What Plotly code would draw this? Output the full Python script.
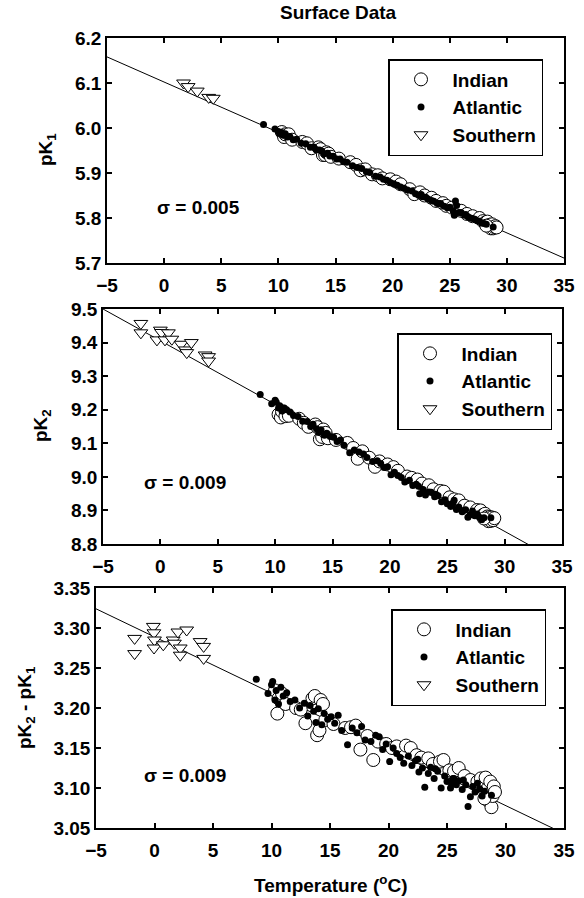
import plotly.graph_objects as go

# ---------------- data ----------------
x_ticks = [-5, 0, 5, 10, 15, 20, 25, 30, 35]

ind_t = [10.3, 10.5, 10.6, 10.9, 11.2, 12.1, 12.5, 12.9, 13.5, 13.7, 13.9, 14.1, 14.2, 14.4, 14.6, 15.3,
         16.3, 16.8, 17.2, 17.6, 18.2, 18.7, 19.1, 19.8, 20.3, 20.7, 21.5, 21.9, 22.4, 22.8, 23.4, 23.8,
         24.4, 24.7, 25.2, 25.6, 26.0, 26.5, 27.0, 27.6, 27.9, 28.1, 28.3, 28.4, 28.5, 28.6, 28.7, 28.8,
         28.9, 29.0, 29.1, 28.2]
ind_pk1 = [5.991, 5.980, 5.986, 5.986, 5.974, 5.969, 5.966, 5.955, 5.957, 5.953, 5.940, 5.940, 5.946, 5.943,
           5.936, 5.932, 5.924, 5.918, 5.906, 5.908, 5.897, 5.895, 5.888, 5.886, 5.881, 5.875, 5.864, 5.853,
           5.857, 5.850, 5.845, 5.838, 5.833, 5.827, 5.823, 5.818, 5.816, 5.809, 5.804, 5.800, 5.793, 5.790,
           5.792, 5.783, 5.785, 5.777, 5.786, 5.777, 5.780, 5.782, 5.779, 5.783]
ind_pk2 = [9.186, 9.177, 9.195, 9.181, 9.182, 9.173, 9.161, 9.149, 9.156, 9.148, 9.112, 9.119, 9.141, 9.131,
           9.115, 9.110, 9.101, 9.086, 9.054, 9.076, 9.057, 9.030, 9.046, 9.037, 9.029, 9.018, 9.001, 8.997,
           8.992, 8.980, 8.975, 8.963, 8.958, 8.956, 8.939, 8.933, 8.930, 8.914, 8.909, 8.901, 8.900, 8.886,
           8.890, 8.878, 8.882, 8.868, 8.880, 8.869, 8.879, 8.871, 8.877, 8.876]
ind_dpk = [3.222, 3.193, 3.212, 3.218, 3.205, 3.200, 3.198, 3.181, 3.212, 3.215, 3.166, 3.172, 3.210, 3.205,
           3.185, 3.180, 3.175, 3.176, 3.178, 3.148, 3.165, 3.135, 3.158, 3.155, 3.150, 3.152, 3.153, 3.150,
           3.141, 3.138, 3.137, 3.130, 3.133, 3.135, 3.122, 3.121, 3.125, 3.115, 3.110, 3.108, 3.112, 3.104,
           3.113, 3.098, 3.092, 3.083, 3.108, 3.076, 3.090, 3.102, 3.095, 3.087]

atl_t = [8.7, 9.7, 10.0, 10.1, 10.3, 10.4, 10.6, 10.8, 11.0, 11.3, 11.6, 12.0, 12.4, 12.8, 13.1, 13.3,
         13.6, 13.8, 14.0, 14.3, 14.5, 14.8, 15.1, 15.4, 15.7, 16.0, 16.5, 16.9, 17.3, 17.7, 18.0, 18.5,
         18.9, 19.2, 19.5, 19.8, 20.1, 20.4, 20.7, 21.0, 21.3, 21.7, 22.0, 22.3, 22.6, 22.9, 23.1, 23.4,
         23.6, 23.9, 24.2, 24.5, 24.8, 25.0, 25.3, 25.5, 25.8, 26.0, 26.3, 26.6, 26.8, 27.0, 27.2, 27.4,
         27.6, 27.8, 28.0, 28.2, 28.8, 24.0, 22.5, 26.4, 25.4, 25.6]
atl_pk1 = [6.008, 5.998, 5.992, 5.988, 5.990, 5.984, 5.987, 5.980, 5.981, 5.974, 5.975, 5.966, 5.965, 5.957,
           5.958, 5.952, 5.951, 5.949, 5.943, 5.944, 5.938, 5.937, 5.931, 5.931, 5.925, 5.924, 5.916, 5.912,
           5.910, 5.903, 5.901, 5.893, 5.891, 5.886, 5.884, 5.879, 5.876, 5.873, 5.869, 5.866, 5.862, 5.860,
           5.854, 5.851, 5.847, 5.846, 5.842, 5.839, 5.837, 5.833, 5.832, 5.826, 5.823, 5.824, 5.816, 5.838,
           5.812, 5.812, 5.806, 5.803, 5.800, 5.799, 5.797, 5.794, 5.793, 5.789, 5.788, 5.786, 5.780, 5.832,
           5.852, 5.808, 5.806, 5.828]
atl_pk2 = [9.245, 9.218, 9.228, 9.222, 9.205, 9.212, 9.196, 9.205, 9.200, 9.193, 9.183, 9.180, 9.166, 9.165,
           9.150, 9.157, 9.143, 9.132, 9.140, 9.124, 9.130, 9.120, 9.118, 9.105, 9.110, 9.094, 9.072, 9.080,
           9.074, 9.068, 9.058, 9.046, 9.048, 9.040, 9.028, 9.030, 9.006, 9.014, 9.004, 8.998, 8.985, 8.990,
           8.974, 8.978, 8.950, 8.962, 8.946, 8.955, 8.954, 8.941, 8.944, 8.926, 8.932, 8.920, 8.912, 8.922,
           8.903, 8.910, 8.896, 8.902, 8.880, 8.887, 8.898, 8.884, 8.889, 8.880, 8.872, 8.878, 8.878, 8.948,
           8.972, 8.900, 8.915, 8.930]
atl_dpk = [3.236, 3.218, 3.229, 3.233, 3.210, 3.222, 3.205, 3.226, 3.215, 3.219, 3.208, 3.210, 3.200, 3.206,
           3.190, 3.203, 3.196, 3.182, 3.199, 3.179, 3.193, 3.186, 3.189, 3.181, 3.191, 3.172, 3.154, 3.175,
           3.169, 3.177, 3.160, 3.158, 3.166, 3.164, 3.148, 3.155, 3.133, 3.150, 3.143, 3.138, 3.131, 3.140,
           3.128, 3.134, 3.120, 3.125, 3.101, 3.118, 3.126, 3.112, 3.121, 3.100, 3.115, 3.108, 3.100, 3.112,
           3.104, 3.109, 3.098, 3.104, 3.077, 3.089, 3.102, 3.095, 3.106, 3.099, 3.090, 3.096, 3.091, 3.124,
           3.136, 3.110, 3.105, 3.112]

sou_t1 = [1.7, 2.1, 2.9, 3.9, 4.3]
sou_pk1 = [6.100, 6.092, 6.082, 6.068, 6.066]
sou_t2 = [-1.7, -1.7, -0.3, 0.0, 0.1, 0.4, 0.7, 1.0, 1.8, 2.2, 2.3, 2.7, 3.9, 4.2, 4.2]
sou_pk2 = [9.457, 9.429, 9.408, 9.437, 9.430, 9.408, 9.429, 9.410, 9.395, 9.378, 9.370, 9.400, 9.363, 9.358, 9.345]
sou_t3 = [-1.7, -1.7, -0.1, -0.05, 0.0, -0.04, 0.75, 1.6, 1.7, 2.0, 2.75, 2.2, 2.2, 3.9, 4.2, 4.2]
sou_dpk = [3.287, 3.268, 3.302, 3.294, 3.285, 3.275, 3.279, 3.285, 3.281, 3.295, 3.2975, 3.275, 3.266, 3.283, 3.277, 3.262]

fit_t = [-5, 35]
fit_pk1 = [6.158, 5.711]
fit_pk2 = [9.500, 8.743]
fit_dpk = [3.324, 3.043]

sigma_labels = ["σ = 0.005", "σ = 0.009", "σ = 0.009"]
y_titles = ["pK<sub>1</sub>", "pK<sub>2</sub>", "pK<sub>2</sub> - pK<sub>1</sub>"]
series_names = ["Indian", "Atlantic", "Southern"]

for a, b in [(ind_t, ind_pk1), (ind_t, ind_pk2), (ind_t, ind_dpk), (atl_t, atl_pk1), (atl_t, atl_pk2),
             (atl_t, atl_dpk), (sou_t1, sou_pk1), (sou_t2, sou_pk2), (sou_t3, sou_dpk)]:
    assert len(a) == len(b), (len(a), len(b))

# ---------------- figure ----------------
W, H = 584, 898
FONT = "Liberation Sans, Arial, sans-serif"
FS = 19

panels = [
    dict(ys=(ind_pk1, atl_pk1, sou_pk1), st=sou_t1, fit=fit_pk1, yr=[5.7, 6.2], dt=0.1, fmt=".1f",
         px=(107, 564), py=(38, 263), leg=(388, 59), sig=(155, 207), yt=(47, 150)),
    dict(ys=(ind_pk2, atl_pk2, sou_pk2), st=sou_t2, fit=fit_pk2, yr=[8.8, 9.5], dt=0.1, fmt=".1f",
         px=(103, 562), py=(309, 544), leg=(397, 333), sig=(142, 482), yt=(42, 426)),
    dict(ys=(ind_dpk, atl_dpk, sou_dpk), st=sou_t3, fit=fit_dpk, yr=[3.05, 3.35], dt=0.05, fmt=".2f",
         px=(96, 564), py=(588, 828), leg=(391, 609), sig=(142, 775), yt=(26, 708)),
]

fig = go.Figure()
layout = dict(
    template="none",
    width=W, height=H, margin=dict(l=0, r=0, t=0, b=0, pad=0, autoexpand=False),
    paper_bgcolor="white", plot_bgcolor="white",
    font=dict(family=FONT, size=FS, color="black", weight="bold"),
    annotations=[], showlegend=True,
)

for i, p in enumerate(panels):
    n = "" if i == 0 else str(i + 1)
    xa, ya = "x" + n, "y" + n
    lg = "legend" + n
    # fit line
    fig.add_trace(go.Scatter(x=fit_t, y=p["fit"], mode="lines", line=dict(color="black", width=1),
                             xaxis=xa, yaxis=ya, showlegend=False, hoverinfo="skip"))
    fig.add_trace(go.Scatter(x=ind_t, y=p["ys"][0], mode="markers", name=series_names[0],
                             marker=dict(symbol="circle", size=13, color="white",
                                         line=dict(color="black", width=1)),
                             xaxis=xa, yaxis=ya, legend=lg))
    fig.add_trace(go.Scatter(x=atl_t, y=p["ys"][1], mode="markers", name=series_names[1],
                             marker=dict(symbol="circle", size=7, color="black",
                                         line=dict(color="black", width=0)),
                             xaxis=xa, yaxis=ya, legend=lg))
    fig.add_trace(go.Scatter(x=p["st"], y=p["ys"][2], mode="markers", name=series_names[2],
                             marker=dict(symbol="triangle-down", size=12, color="white",
                                         line=dict(color="black", width=1)),
                             xaxis=xa, yaxis=ya, legend=lg))

    x0, x1 = p["px"]
    y0, y1 = p["py"]
    common = dict(showline=True, linecolor="black", linewidth=1.5, mirror="ticks", ticks="inside",
                  ticklen=5, tickwidth=1.5, tickcolor="black", showgrid=False, zeroline=False,
                  automargin=False)
    layout["xaxis" + n] = dict(domain=[x0 / W, x1 / W], anchor=ya, range=[-5, 35],
                               tickmode="array", tickvals=x_ticks, ticklabelstandoff=4, **common)
    layout["yaxis" + n] = dict(domain=[1 - y1 / H, 1 - y0 / H], anchor=xa, range=p["yr"],
                               dtick=p["dt"], tick0=p["yr"][0], tickformat=p["fmt"], **common)
    lx, ly = p["leg"]
    layout[lg] = dict(x=lx / W, y=1 - ly / H, xanchor="left", yanchor="top", xref="paper", yref="paper",
                      bordercolor="black", borderwidth=1.5, bgcolor="white", itemwidth=53,
                      font=dict(family=FONT, size=FS, color="black", weight="bold"), traceorder="normal")
    sx, sy = p["sig"]
    layout["annotations"].append(dict(text=sigma_labels[i], x=sx / W, y=1 - sy / H, xref="paper", yref="paper",
                                      xanchor="left", yanchor="middle", showarrow=False))
    tx, ty = p["yt"]
    layout["annotations"].append(dict(text=y_titles[i], x=tx / W, y=1 - ty / H, xref="paper", yref="paper",
                                      xanchor="center", yanchor="middle", textangle=-90, showarrow=False))

layout["annotations"].append(dict(text="Surface Data", x=338 / W, y=1 - 13 / H, xref="paper", yref="paper",
                                  xanchor="center", yanchor="middle", showarrow=False))
layout["annotations"].append(dict(text="Temperature (<sup>o</sup>C)", x=330 / W, y=1 - 884 / H, xref="paper",
                                  yref="paper", xanchor="center", yanchor="middle", showarrow=False))

fig.update_layout(**layout)
fig.write_html("out.html")
